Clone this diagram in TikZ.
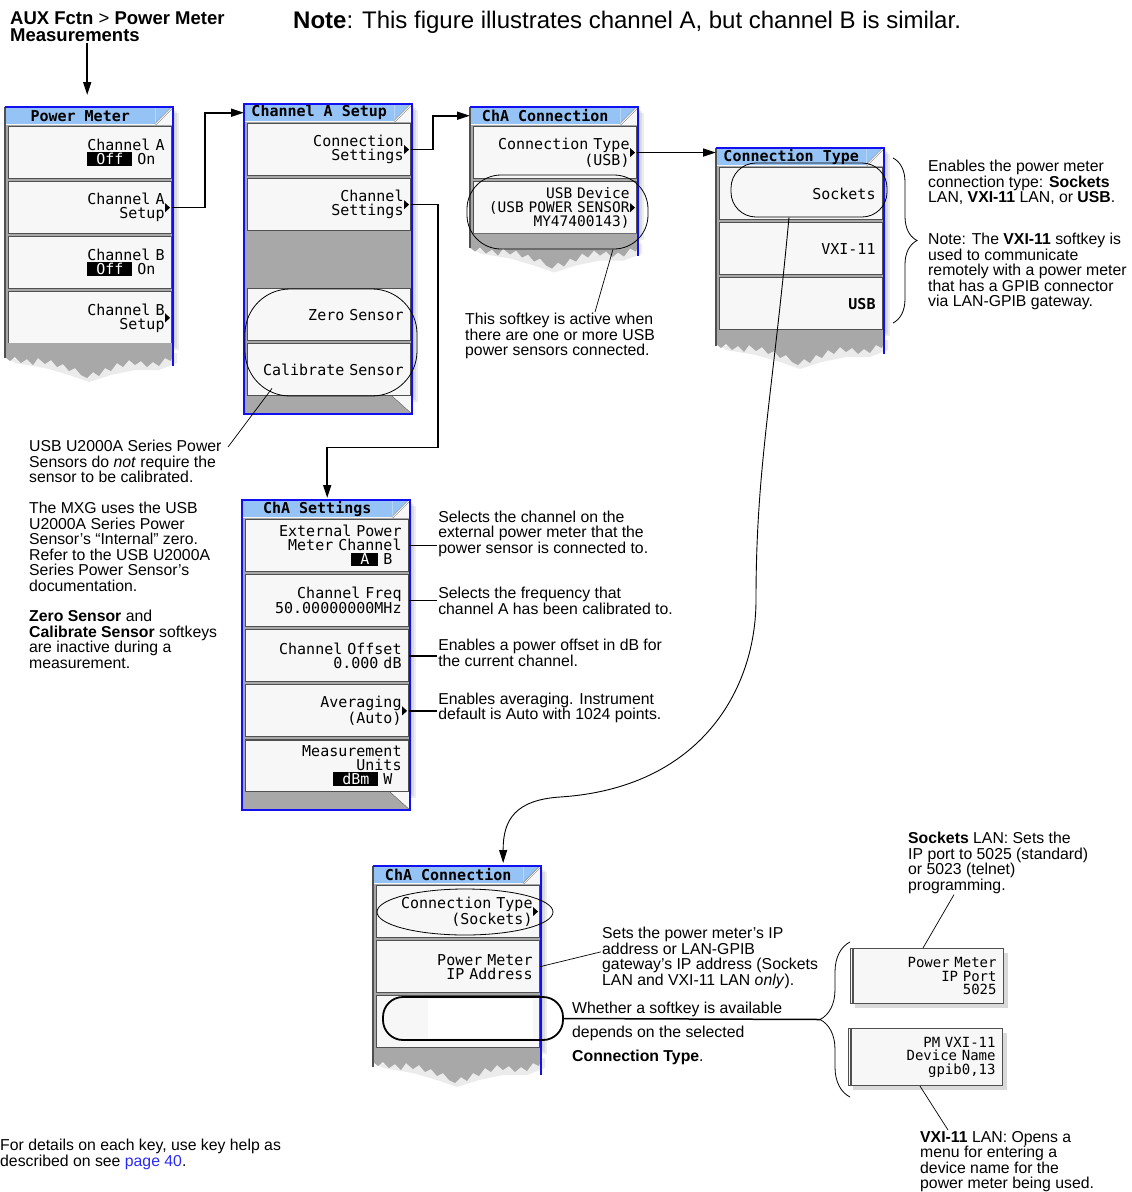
\documentclass[tikz,border=0pt]{standalone}
\usepackage{fontspec}
\setmainfont{Liberation Sans}
\setmonofont{DejaVu Sans Mono}
\usetikzlibrary{arrows.meta,positioning,shapes.geometric,decorations.pathreplacing}
\definecolor{menublue}{HTML}{1010F0}
\definecolor{titleblue}{HTML}{96C3F5}
\definecolor{keyface}{HTML}{F7F7F7}
\definecolor{keyline}{HTML}{505050}
\definecolor{slotgray}{HTML}{A8A8A8}
\definecolor{linkblue}{HTML}{2A2AF5}
\newcommand{\keyfont}{\fontsize{15}{14}\selectfont\ttfamily}
\newcommand{\ttlfont}{\fontsize{15}{15}\selectfont\ttfamily\bfseries}
\newcommand{\notefont}{\fontsize{15.8}{15.5}\selectfont}
\newcommand{\onsel}[1]{{\setlength{\fboxsep}{1pt}\colorbox{black}{\textcolor{white}{\hspace{8pt}#1\hspace{8pt}}}}}
% menu pieces: left x, top y, bottom y of the keys
\newcommand{\menubody}[3]{%
  \foreach \s in {2,4,6}
    \fill[black,opacity=.07] (#1+\s,#2+\s) rectangle (#1+168+\s,#3+\s);
  \fill[keyface] (#1,#2) rectangle (#1+168,#2+18);
  \fill[slotgray] (#1,#2+18) rectangle (#1+168,#3);}
\newcommand{\menuedge}[3]{%
  \draw[keyline,line width=1.5pt] (#1,#2) -- (#1,#3-8);
  \draw[menublue,line width=2pt] (#1,#2) -- (#1+168,#2) -- (#1+168,#3);}
\newcommand{\menustrip}[2]{%
  \fill[slotgray] (#1,#2) -- (#1+148,#2) -- (#1+168,#2+18) -- (#1,#2+18) -- cycle;
  \fill[keyface] (#1+148,#2) -- (#1+168,#2) -- (#1+168,#2+18) -- cycle;
  \draw[keyline] (#1+148,#2) -- (#1+168,#2+18);}
\newcommand{\tornbottom}[2]{%
  \begin{scope}[shift={(#1,#2)}]
  \fill[black,opacity=.08] (4,16) -- (10,20) -- (22,22) -- (40,25) -- (64,32)
    -- (84,39) -- (106,32) -- (130,27) -- (154,27) -- (172,20) -- (172,10) -- cycle;
  \fill[slotgray] (0,0) -- (0,14) -- (5,18) -- (10,14) -- (16,20) -- (22,16)
    -- (28,22) -- (33,15) -- (40,21) -- (46,17) -- (52,24) -- (58,21) -- (64,28)
    -- (70,25) -- (76,32) -- (82,35) -- (88,29) -- (94,33) -- (100,25) -- (106,28)
    -- (112,20) -- (118,24) -- (124,17) -- (130,22) -- (136,18) -- (142,24)
    -- (148,19) -- (154,23) -- (160,15) -- (166,18) -- (168,12) -- (168,0) -- cycle;
  \end{scope}}
\newcommand{\titlecorner}[1]{%
  \fill[titleblue] (#1.north east) -- ++(17,0) -- (#1.south east) -- cycle;
  \draw[gray,line width=.6pt,double=white,double distance=.8pt]
    (#1.south east) -- ++(17,-17);}

\begin{document}
\begin{tikzpicture}[x=1pt,y=-1pt,font=\notefont,
  key/.style={draw=keyline,line width=1.1pt,fill=keyface,anchor=north west,
    minimum width=163pt,minimum height=52pt,text width=149pt,inner xsep=7pt,
    align=right,font=\keyfont},
  ttl/.style={fill=titleblue,anchor=north west,minimum width=150pt,
    minimum height=17pt,inner sep=0pt,font=\ttlfont},
  note/.style={anchor=north west,align=left,inner sep=1pt},
  ring/.style={draw,line width=.8pt,inner sep=0pt},
  arr/.style={-{Triangle[length=13pt,width=8pt]},line width=1.6pt},
  link/.style={line width=1.5pt},
  lead/.style={line width=.7pt},
  curly/.style={decorate,decoration={brace,amplitude=#1},line width=.8pt}]

  \useasboundingbox (0,0) rectangle (1132,1192);

  \node[note,font=\fontsize{18.5}{16.5}\selectfont\bfseries] (aux) at (9,11)
    {AUX Fctn \textmd{>} Power Meter\\Measurements};
  \node[note,font=\fontsize{24}{24}\selectfont] (figNote) at (292,10)
    {\textbf{Note}: This figure illustrates channel A, but channel B is similar.};

  % Power Meter
  \menubody{5}{107}{344}
  \node[ttl] (pmT) at (5,107) {Power Meter};
  \titlecorner{pmT}
  \node[key] (pmA) at (8,126) {Channel A\\\onsel{Off} On\phantom{O}};
  \node[key,below=2pt of pmA] (pmAS) {Channel A\\Setup};
  \node[key,below=2pt of pmAS] (pmB) {Channel B\\\onsel{Off} On\phantom{O}};
  \node[key,below=2pt of pmB] (pmBS) {Channel B\\Setup};
  \tornbottom{5}{343}
  \menuedge{5}{107}{366}

  % Channel A Setup
  \menubody{244}{104}{396}
  \node[ttl] (casT) at (244,104) {Channel A Setup};
  \titlecorner{casT}
  \node[key] (casConn) at (247,123) {Connection\\Settings};
  \node[key,below=2pt of casConn] (casChan) {Channel\\Settings};
  \node[key,below=57pt of casChan] (casZero) {Zero Sensor};
  \node[key,below=2pt of casZero] (casCal) {Calibrate Sensor};
  \menustrip{244}{396}
  \draw[menublue,line width=2pt] (244,104) rectangle (412,414);

  % ChA Connection (USB)
  \menubody{470}{107}{234}
  \node[ttl] (cacT) at (470,107) {ChA Connection};
  \titlecorner{cacT}
  \node[key] (cacType) at (473,126) {Connection Type\\(USB)};
  \node[key,below=2pt of cacType,font=\fontsize{14.5}{14}\selectfont\ttfamily] (cacUsb)
    {USB Device\\(USB POWER SENSOR\\MY47400143)};
  \tornbottom{470}{233.5}
  \menuedge{470}{107}{256}

  % Connection Type
  \menubody{716}{148}{330}
  \node[ttl] (ctT) at (716,148) {Connection Type};
  \titlecorner{ctT}
  \node[key] (ctSock) at (719,167) {Sockets};
  \node[key,below=2pt of ctSock] (ctVxi) {VXI-11};
  \node[key,below=2pt of ctVxi] (ctUsb) {\textbf{USB}};
  \tornbottom{716}{330}
  \menuedge{716}{148}{354}

  % ChA Settings
  \menubody{242}{500}{792}
  \node[ttl] (chsT) at (242,500) {ChA Settings};
  \titlecorner{chsT}
  \node[key] (chsExt) at (245,519) {External Power\\Meter Channel\\\onsel{A} B\phantom{B}};
  \node[key,below=2pt of chsExt] (chsFreq) {Channel Freq\\50.00000000MHz};
  \node[key,below=2pt of chsFreq] (chsOff) {Channel Offset\\0.000 dB};
  \node[key,below=2pt of chsOff] (chsAvg) {Averaging\\(Auto)};
  \node[key,below=2pt of chsAvg] (chsUnit) {Measurement\\Units\\\onsel{dBm} W\phantom{W}};
  \menustrip{242}{792}
  \draw[menublue,line width=2pt] (242,500) rectangle (410,810);

  % ChA Connection (Sockets)
  \menubody{373}{866}{1048}
  \node[ttl] (bcT) at (373,866) {ChA Connection};
  \titlecorner{bcT}
  \node[key] (bcType) at (376,885) {Connection Type\\(Sockets)};
  \node[key,below=2pt of bcType] (bcIP) {Power Meter\\IP Address};
  \node[key,below=2pt of bcIP] (bcSlot) {};
  \fill[white] (428,999) rectangle (533,1038);
  \tornbottom{373}{1048}
  \menuedge{373}{866}{1075}

  % submenu marks
  \foreach \k in {pmAS,pmBS,casConn,casChan,cacType,cacUsb,chsAvg,bcType}
    \fill (\k.east) ++(-7,-4.5) -- ++(5,4.5) -- ++(-5,4.5) -- cycle;

  % settings shown for Sockets / VXI-11
  \fill[black,opacity=.15] (855,953) rectangle (1008,1008);
  \fill[black,opacity=.15] (853,1033) rectangle (1007,1090);
  \node[key,minimum width=153pt,text width=139pt,minimum height=55pt,
    font=\fontsize{14}{13.5}\selectfont\ttfamily] (pmPort) at (850,948)
    {Power Meter\\IP Port\\5025};
  \node[key,minimum width=154pt,text width=140pt,minimum height=57pt,
    font=\fontsize{14}{13.5}\selectfont\ttfamily] (pmDev) at (848,1028)
    {PM VXI-11\\Device Name\\gpib0,13};
  \draw[keyline,line width=1.1pt] ([xshift=3pt]pmPort.north west) -- ([xshift=3pt]pmPort.south west);
  \draw[keyline,line width=1.1pt] ([xshift=3pt]pmDev.north west) -- ([xshift=3pt]pmDev.south west);

  % rings
  \node[ring,minimum width=172pt,minimum height=107pt,rounded corners=45pt] (zcRing) at (331,342.5) {};
  \node[ring,minimum width=181pt,minimum height=74pt,rounded corners=34pt] (usbRing) at (557.5,212) {};
  \node[ring,minimum width=156pt,minimum height=54pt,rounded corners=25pt] (sockRing) at (809,190) {};
  \node[ring,ellipse,minimum width=176pt,minimum height=46pt] (bcSockRing) at (465,912) {};
  \node[ring,line width=1.8pt,minimum width=180pt,minimum height=43pt,rounded corners=20pt] (bcRing) at (473,1018.5) {};

  % menu links
  \draw[arr,shorten >=12pt] ([xshift=7pt]pmT.north |- aux.south) -- ([xshift=7pt]pmT.north);
  \draw[arr] (pmAS.east) -- ++(33,0) |- (casT.west);
  \draw[arr] (casConn.east) -- ++(22,0) |- (cacT.west);
  \draw[arr,shorten >=2pt] (casChan.east) -- ++(27,0) -- ++(0,243) -| ([xshift=10pt]chsT.north);
  \draw[arr] (cacType.east) -- (cacType.east -| ctT.west);
  \draw[-{Triangle[length=13pt,width=8pt]},line width=.9pt,shorten >=3pt]
    ([xshift=-20pt]sockRing.south) .. controls (772,400) and (756,470) .. (756,600)
    .. controls (756,690) and (700,788) .. (560,797)
    .. controls (515,800) and (503,820) .. ([xshift=55pt]bcT.north);

  % notes
  \node[note] (calNote) at (28,439)
    {USB U2000A Series Power\\Sensors do \textit{not} require the\\sensor to be calibrated.};
  \node[note] (zeroNote) at (28,501)
    {The MXG uses the USB\\U2000A Series Power\\Sensor’s “Internal” zero.\\Refer to the USB U2000A\\Series Power Sensor’s\\documentation.};
  \node[note] (inactNote) at (28,609)
    {\textbf{Zero Sensor} and\\\textbf{Calibrate Sensor} softkeys\\are inactive during a\\measurement.};
  \draw[lead] ([xshift=-59pt,yshift=8pt]zcRing.south) -- ([shift={(200pt,-8pt)}]calNote.north west);

  \node[note] (usbNote) at (464,312)
    {This softkey is active when\\there are one or more USB\\power sensors connected.};
  \draw[lead] (usbRing.326) -- ([xshift=131pt]usbNote.north west);

  \draw[curly=24pt] (893,158) -- (893,323);
  \node[note] (ctNote1) at (927,159)
    {Enables the power meter\\connection type: \textbf{Sockets}\\LAN, \textbf{VXI-11} LAN, or \textbf{USB}.};
  \node[note] (ctNote2) at (927,232)
    {Note: The \textbf{VXI-11} softkey is\\used to communicate\\remotely with a power meter\\that has a GPIB connector\\via LAN-GPIB gateway.};

  \node[note,right=28pt of chsExt,yshift=12pt] (extNote)
    {Selects the channel on the\\external power meter that the\\power sensor is connected to.};
  \node[note,right=28pt of chsFreq] (freqNote)
    {Selects the frequency that\\channel A has been calibrated to.};
  \node[note,right=28pt of chsOff,yshift=3pt] (offNote)
    {Enables a power offset in dB for\\the current channel.};
  \node[note,right=28pt of chsAvg,yshift=3pt] (avgNote)
    {Enables averaging. Instrument\\default is Auto with 1024 points.};
  \foreach \k/\n in {chsExt/extNote,chsFreq/freqNote,chsOff/offNote,chsAvg/avgNote}
    \draw[link] (\k.east) -- (\k.east -| \n.west);

  \node[note] (ipNote) at (601,926)
    {Sets the power meter’s IP\\address or LAN-GPIB\\gateway’s IP address (Sockets\\LAN and VXI-11 LAN \textit{only}).};
  \draw[lead] (bcIP.east) -- ([yshift=6pt]ipNote.west);

  \node[note,font=\fontsize{15.8}{24}\selectfont] (availNote) at (571,1001)
    {Whether a softkey is available\\depends on the selected\\\textbf{Connection Type}.};
  \coordinate (brTip) at (820,1019.5);
  \draw[curly=30pt] (850,1097) -- (850,942);
  \draw[link] (bcRing.east) -- (brTip);

  \node[note] (sockNote) at (907,831)
    {\textbf{Sockets} LAN: Sets the\\IP port to 5025 (standard)\\or 5023 (telnet)\\programming.};
  \draw[lead] ([xshift=47pt]sockNote.south west) -- ([xshift=73pt]pmPort.north west);
  \node[note] (vxiNote) at (919,1130)
    {\textbf{VXI-11} LAN: Opens a\\menu for entering a\\device name for the\\power meter being used.};
  \draw[lead] ([xshift=72pt]pmDev.south west) -- ([xshift=29pt]vxiNote.north west);

  \node[note] (helpNote) at (-1,1138)
    {For details on each key, use key help as\\described on see \textcolor{linkblue}{page 40}.};
\end{tikzpicture}
\end{document}
